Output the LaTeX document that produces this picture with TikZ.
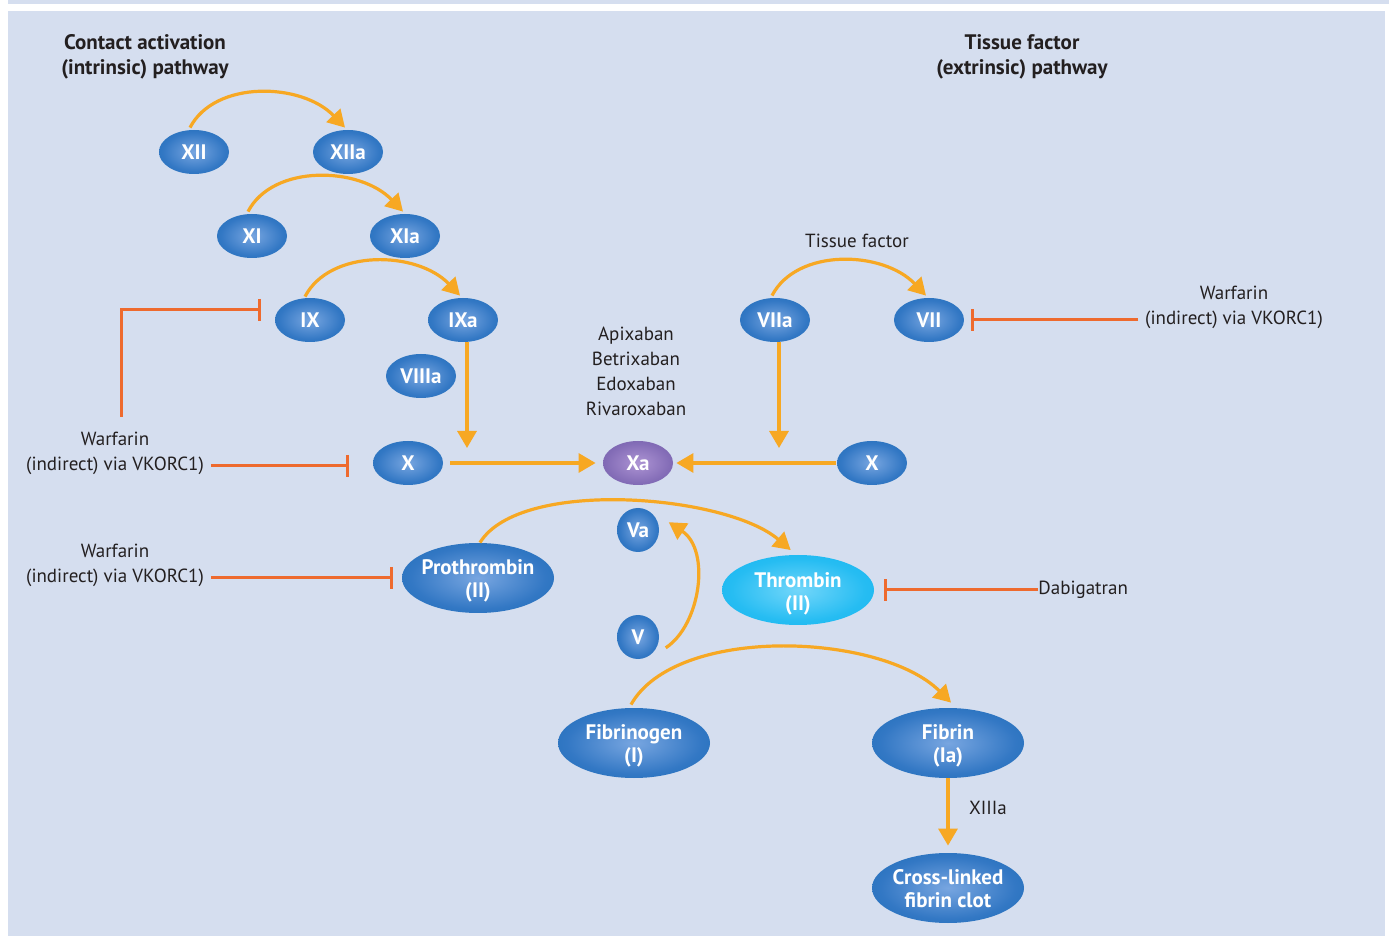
\documentclass[tikz,border=0pt]{standalone}
\usepackage{fontspec}
\setmainfont{PT Sans}
\usetikzlibrary{shapes.geometric,arrows.meta}
\definecolor{bgc}{HTML}{D5DEEF}
\definecolor{orng}{HTML}{F7A823}
\definecolor{inhc}{HTML}{EE6A2E}
\definecolor{txt}{HTML}{231F20}
\pgfdeclareradialshading{bubblue}{\pgfpoint{0bp}{0bp}}{rgb(0bp)=(0.47,0.65,0.88); rgb(22bp)=(0.20,0.47,0.77); rgb(50bp)=(0.02,0.38,0.66); rgb(60bp)=(0.02,0.38,0.66)}
\pgfdeclareradialshading{bubpurple}{\pgfpoint{0bp}{0bp}}{rgb(0bp)=(0.68,0.58,0.83); rgb(22bp)=(0.52,0.43,0.72); rgb(50bp)=(0.35,0.28,0.60); rgb(60bp)=(0.35,0.28,0.60)}
\pgfdeclareradialshading{bubcyan}{\pgfpoint{0bp}{0bp}}{rgb(0bp)=(0.45,0.84,0.98); rgb(22bp)=(0.15,0.74,0.95); rgb(50bp)=(0.0,0.68,0.93); rgb(60bp)=(0.0,0.68,0.93)}
\begin{document}
\begin{tikzpicture}[x=0.5pt,y=-0.5pt,
  font=\fontsize{9.5}{12.5}\selectfont, text=txt,
  bub/.style={ellipse,inner sep=0pt,minimum width=35pt,minimum height=22pt,shading=bubblue,text=white,font=\fontsize{10.5}{11.5}\selectfont\bfseries},
  big/.style={bub,minimum width=76pt,minimum height=35pt},
  circ/.style={bub,minimum width=21pt,minimum height=22pt},
  lab/.style={text=white,font=\fontsize{10.5}{11.5}\selectfont\bfseries,align=center,inner sep=0pt},
  arr/.style={draw=orng,line width=1.6pt,-{Triangle[length=8.5pt,width=9.5pt]}},
  inh/.style={draw=inhc,line width=1.5pt,-{Bar[width=11pt,line width=1.5pt]}},
  ttl/.style={font=\fontsize{10.5}{12.5}\selectfont\bfseries,align=center},
  note/.style={align=center}]
\useasboundingbox (0,0) rectangle (1389,936);
\fill[bgc] (8,0) rectangle (1389,4);
\fill[bgc] (8,11) rectangle (1385,936);
% titles
\node[ttl] (t1) at (145,57) {Contact activation\\(intrinsic) pathway};
\node[ttl] (t2) at (1022,57) {Tissue factor\\(extrinsic) pathway};
% factor nodes
\node[bub] (XII) at (194,152) {XII};
\node[bub] (XIIa) at (348,152) {XIIa};
\node[bub] (XI) at (252,236) {XI};
\node[bub] (XIa) at (405,236) {XIa};
\node[bub] (IX) at (310,320) {IX};
\node[bub] (IXa) at (463,320) {IXa};
\node[bub] (VIIIa) at (421,376) {VIIIa};
\node[bub] (Xl) at (408,463) {X};
\node[bub,shading=bubpurple] (Xa) at (638,463) {Xa};
\node[bub] (Xr) at (872,463) {X};
\node[bub] (VIIa) at (775,320) {VIIa};
\node[bub] (VII) at (929,320) {VII};
\node[circ] (Va) at (638,530) {Va};
\node[circ] (V) at (638,637) {V};
\node[big] (Pro) at (478,578) {};
\node[lab] (ProT) at ([yshift=-1.5pt]Pro) {Prothrombin\\(II)};
\node[big,shading=bubcyan] (Thr) at (798,590) {};
\node[lab] (ThrT) at ([yshift=-2pt]Thr) {Thrombin\\(II)};
\node[big] (Fbg) at (634,743) {};
\node[lab] (FbgT) at ([yshift=-1.5pt]Fbg) {Fibrinogen\\(I)};
\node[big] (Fbn) at (948,743) {};
\node[lab] (FbnT) at ([yshift=-1.5pt]Fbn) {Fibrin\\(Ia)};
\node[big] (Clot) at (948,888) {};
\node[lab] (ClotT) at ([yshift=-0.5pt]Clot) {Cross-linked\\fibrin clot};
% texts
\node (tf) at (857,241) {Tissue factor};
\node[note] (drugs) at (636,371) {Apixaban\\Betrixaban\\Edoxaban\\Rivaroxaban};
\node[note] (w1) at (115,453) {Warfarin\\(indirect) via VKORC1)};
\node[note] (w2) at (115,565) {Warfarin\\(indirect) via VKORC1)};
\node[note] (w3) at (1234,307) {Warfarin\\(indirect) via VKORC1)};
\node[anchor=west,inner sep=0pt] (dab) at (1038,590) {Dabigatran};
\node (x13) at (988,808) {XIIIa};
% activation arcs
\draw[arr] ([xshift=-2pt,yshift=1pt]XII.north) .. controls +(25,-48) and +(-43,-45) .. ([xshift=-1.5pt,yshift=1pt]XIIa.north);
\draw[arr] ([xshift=-2pt,yshift=1pt]XI.north) .. controls +(25,-48) and +(-43,-45) .. ([xshift=-1pt,yshift=1pt]XIa.north);
\draw[arr] ([xshift=-2.5pt,yshift=0.5pt]IX.north) .. controls +(25,-48) and +(-43,-45) .. ([xshift=-1.5pt,yshift=1pt]IXa.north);
\draw[arr] ([xshift=-1.5pt,yshift=1pt]VIIa.north) .. controls +(25,-48) and +(-43,-45) .. ([xshift=-1.5pt,yshift=1pt]VII.north);
% vertical arrows
\coordinate (j1) at (467,448);
\coordinate (j2) at (779,448);
\draw[arr] (IXa.south -| j1) -- (j1);
\draw[arr] (VIIa.south -| j2) -- (j2);
% to Xa
\draw[arr,shorten <=3.5pt,shorten >=3.5pt] (Xl) -- (Xa);
\draw[arr,shorten <=0.5pt,shorten >=1.5pt] (Xr) -- (Xa);
% prothrombin -> thrombin
\draw[arr,shorten >=3.5pt] ([xshift=1pt]Pro.north) .. controls +(40,-65) and +(-70,-60) .. ([xshift=-1pt]Thr.north);
% V -> Va
\draw[arr] ([xshift=4.5pt]V.-30) .. controls +(35,-23) and +(42,28) .. ([xshift=6pt,yshift=-1.5pt]Va.30);
% fibrinogen -> fibrin
\draw[arr] ([xshift=-1.5pt,yshift=1.5pt]Fbg.north) .. controls +(45,-80) and +(-70,-70) .. ([xshift=1.5pt,yshift=2.5pt]Fbn.north);
\draw[arr,shorten >=3.5pt] (Fbn) -- (Clot);
% inhibitors
\draw[inh,shorten >=7pt] ([xshift=3pt,yshift=4pt]w1.north) |- ([yshift=5pt]IX.west);
\draw[inh,shorten >=12pt] ([yshift=-1.5pt]w1.east |- Xl.west) -- ([yshift=-1.5pt]Xl.west);
\draw[inh,shorten >=4.5pt] (w2.east |- Pro.west) -- (Pro.west);
\draw[inh,shorten >=3.5pt] (w3.west |- VII.east) -- (VII.east);
\draw[inh,shorten >=5pt] (dab.west) -- (Thr.east);
\end{tikzpicture}
\end{document}
